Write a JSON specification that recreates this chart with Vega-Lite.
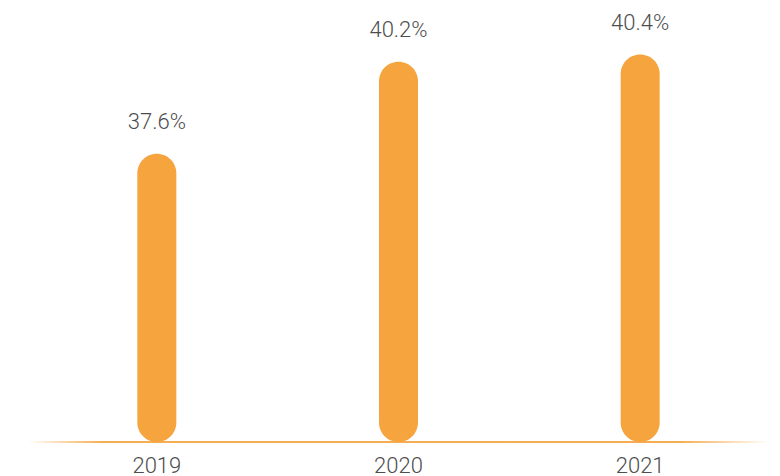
{
  "$schema": "https://vega.github.io/schema/vega-lite/v6.json",
  "width": 725,
  "height": 432,
  "autosize": {"type": "none"},
  "padding": {"left": 36, "top": 10, "right": 19, "bottom": 34},
  "background": "#ffffff",
  "config": {"view": {"stroke": null}},
  "data": {
    "values": [
      {"year": "2019", "value": 37.6, "label": "37.6%"},
      {"year": "2020", "value": 40.2, "label": "40.2%"},
      {"year": "2021", "value": 40.4, "label": "40.4%"}
    ]
  },
  "layer": [
    {
      "mark": {"type": "bar", "size": 39, "cornerRadius": 19.5, "color": "#F5A43E"},
      "encoding": {
        "x": {"field": "year", "type": "nominal", "scale": {"paddingInner": 0, "paddingOuter": 0},
          "axis": {"title": null, "domain": false, "ticks": false, "tickSize": 0, "labelAngle": 0,
            "labelFont": "Roboto", "labelFontSize": 22, "labelFontWeight": 300, "labelColor": "#4d4d4d",
            "labelBaseline": "alphabetic", "labelPadding": 30}},
        "y": {"field": "value", "type": "quantitative", "scale": {"domain": [29.46, 41.66], "zero": false, "nice": false}, "axis": null},
        "y2": {"datum": 29.46}
      }
    },
    {
      "mark": {"type": "tick", "orient": "horizontal", "thickness": 1.5,
        "fill": {"gradient": "linear", "x1": 0, "y1": 0, "x2": 1, "y2": 0,
          "stops": [
            {"offset": 0, "color": "#ffffff"},
            {"offset": 0.1, "color": "#F5A43E"},
            {"offset": 0.88, "color": "#F5A43E"},
            {"offset": 1, "color": "#ffffff"}
          ]}},
      "encoding": {
        "y": {"datum": 29.46, "type": "quantitative"},
        "size": {"value": 742}
      }
    },
    {
      "mark": {"type": "text", "font": "Roboto", "fontSize": 22, "fontWeight": 300, "color": "#4d4d4d", "baseline": "alphabetic", "align": "center", "dy": -24.5},
      "encoding": {
        "x": {"field": "year", "type": "nominal"},
        "y": {"field": "value", "type": "quantitative"},
        "text": {"field": "label"}
      }
    }
  ]
}
